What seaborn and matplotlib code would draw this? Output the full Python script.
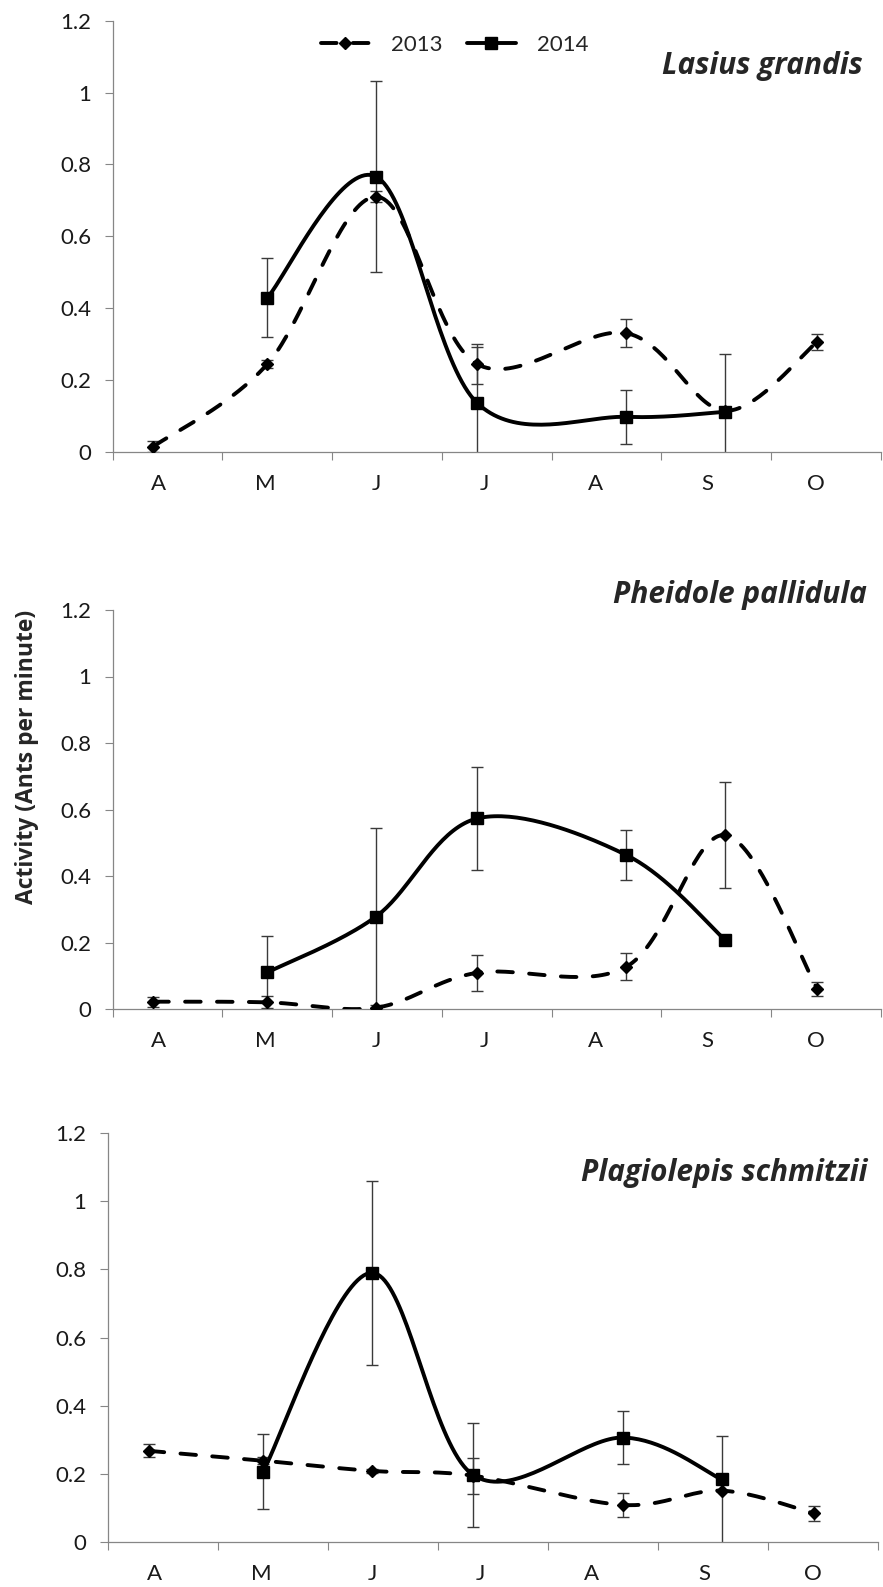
import numpy as np
import pandas as pd
import seaborn as sns
import matplotlib
matplotlib.use("Agg")
import matplotlib.pyplot as plt
from matplotlib.lines import Line2D

# Month labels and where the sampling dates sit on the month axis
months = ["A", "M", "J", "J", "A", "S", "O"]
label_pos = [0.42, 1.39, 2.40, 3.39, 4.40, 5.42, 6.41]
sample_x = [0.37, 1.41, 2.40, 3.32, 4.68, 5.58, 6.42]

nan = np.nan

# Lasius grandis
lg_2013 = [0.014, 0.244, 0.710, 0.244, 0.330, 0.114, 0.306]
lg_2013_err = [0.015, 0.010, 0.015, 0.055, 0.039, 0.010, 0.023]
lg_2014 = [nan, 0.429, 0.766, 0.136, 0.097, 0.111, nan]
lg_2014_err = [nan, 0.110, 0.267, 0.155, 0.076, 0.160, nan]

# Pheidole pallidula
pp_2013 = [0.022, 0.020, 0.004, 0.109, 0.127, 0.523, 0.060]
pp_2013_err = [0.015, 0.018, 0.000, 0.054, 0.040, 0.160, 0.021]
pp_2014 = [nan, 0.110, 0.278, 0.573, 0.463, 0.208, nan]
pp_2014_err = [nan, 0.110, 0.267, 0.154, 0.075, 0.000, nan]

# Plagiolepis schmitzii
ps_2013 = [0.267, 0.238, 0.208, 0.194, 0.108, 0.150, 0.083]
ps_2013_err = [0.019, 0.010, 0.005, 0.053, 0.036, 0.160, 0.022]
ps_2014 = [nan, 0.206, 0.790, 0.196, 0.306, 0.183, nan]
ps_2014_err = [nan, 0.109, 0.270, 0.154, 0.077, 0.010, nan]

species = ["Lasius grandis", "Pheidole pallidula", "Plagiolepis schmitzii"]

sns.set_style("white")
plt.rcParams["font.family"] = ["Lato", "DejaVu Sans"]

AXIS_GREY = "#868686"
TICK_FS = 16
DASH = [4.0, 4.2]


def excel_smooth(xs, ys, n=40):
    # Bezier smoothing like Excel's "smoothed line" (Catmull-Rom control points)
    pts = np.column_stack([xs, ys])
    out = []
    for i in range(len(pts) - 1):
        p0 = pts[max(i - 1, 0)]
        p1 = pts[i]
        p2 = pts[i + 1]
        p3 = pts[min(i + 2, len(pts) - 1)]
        c1 = p1 + (p2 - p0) / 6
        c2 = p2 - (p3 - p1) / 6
        t = np.linspace(0, 1, n)[:, None]
        seg = ((1 - t) ** 3) * p1 + 3 * ((1 - t) ** 2) * t * c1 + 3 * (1 - t) * t ** 2 * c2 + t ** 3 * p2
        out.append(seg if i == 0 else seg[1:])
    out = np.vstack(out)
    return out[:, 0], out[:, 1]


def draw_series(ax, vals, errs, marker, ms, dashed):
    df = pd.DataFrame({"x": sample_x, "y": vals, "err": errs}).dropna(subset=["y"])
    ax.errorbar(df["x"], df["y"], yerr=df["err"], fmt="none", ecolor="#3a3a3a",
                elinewidth=1.0, capsize=4, capthick=1.0, zorder=2)
    cx, cy = excel_smooth(df["x"].values, df["y"].values)
    sns.lineplot(x=cx, y=cy, ax=ax, sort=False, estimator=None, color="black",
                 lw=2.8, zorder=3)
    line = ax.lines[-1]
    if dashed:
        line.set_dashes(DASH)
        line.set_dash_capstyle("round")
    line.set_solid_capstyle("round")
    ax.plot(df["x"], df["y"], ls="none", marker=marker, ms=ms, color="black", zorder=4)


fig = plt.figure(figsize=(8.83, 15.87), dpi=100)
W, H = 883, 1587
# panel boxes in pixels: left, right, top(1.2), bottom(0)
boxes = [(112.6, 881, 20.7, 451.7), (112.6, 881, 610, 1009), (108, 878, 1133.3, 1541.7)]
title_pos = [(0.976, 0.876), (0.981, 1.018), (0.986, 0.882)]

panels = [
    (lg_2013, lg_2013_err, lg_2014, lg_2014_err),
    (pp_2013, pp_2013_err, pp_2014, pp_2014_err),
    (ps_2013, ps_2013_err, ps_2014, ps_2014_err),
]

for k, (v13, e13, v14, e14) in enumerate(panels):
    l, r, t, b = boxes[k]
    ax = fig.add_axes([l / W, 1 - b / H, (r - l) / W, (b - t) / H])
    draw_series(ax, v13, e13, "D", 6, True)
    draw_series(ax, v14, e14, "s", 8, False)

    ax.set_xlim(0, 7)
    ax.set_ylim(0, 1.2)
    ax.set_yticks([0, 0.2, 0.4, 0.6, 0.8, 1.0, 1.2])
    ax.set_yticklabels(["0", "0.2", "0.4", "0.6", "0.8", "1", "1.2"])
    ax.set_xticks(label_pos)
    ax.set_xticklabels(months)
    ax.set_xticks(np.arange(0, 8), minor=True)
    ax.tick_params(axis="x", which="major", length=0, pad=16, labelsize=TICK_FS, colors="#1a1a1a")
    ax.tick_params(axis="x", which="minor", length=6, width=0.8, color=AXIS_GREY, direction="out", bottom=True)
    ax.tick_params(axis="y", length=5.5, width=0.8, color=AXIS_GREY, direction="out", left=True,
                   pad=10, labelsize=TICK_FS, labelcolor="#1a1a1a")
    for s in ["top", "right"]:
        ax.spines[s].set_visible(False)
    for s in ["left", "bottom"]:
        ax.spines[s].set_color(AXIS_GREY)
        ax.spines[s].set_linewidth(0.9)

    tx, ty = title_pos[k]
    ax.text(tx, ty, species[k], transform=ax.transAxes, ha="right", va="baseline",
            fontsize=21.5, fontweight="bold", fontstyle="italic", family=["Open Sans", "DejaVu Sans"],
            clip_on=False)

    if k == 0:
        handles = [
            Line2D([], [], color="black", lw=2.8, ls=(0, tuple(DASH)), marker="D", ms=6,
                   dash_capstyle="round"),
            Line2D([], [], color="black", lw=2.8, marker="s", ms=8),
        ]
        ax.legend(handles, ["2013", "2014"], loc="center", bbox_to_anchor=(0.445, 0.944),
                  ncol=2, frameon=False, fontsize=TICK_FS, handlelength=2.2,
                  handletextpad=0.95, columnspacing=1.1)

fig.text(27 / W, 1 - 757 / H, "Activity (Ants per minute)", rotation=90, ha="center", va="center",
         fontsize=16.5, fontweight="bold", family=["Open Sans", "DejaVu Sans"])

fig.savefig("out.png", dpi=100)
